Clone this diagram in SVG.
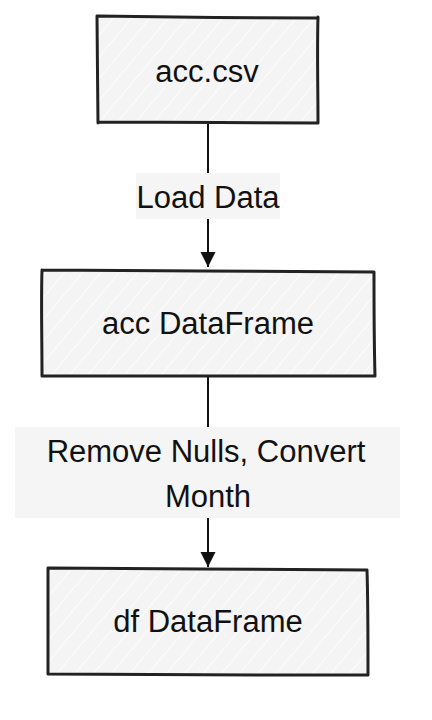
<svg xmlns="http://www.w3.org/2000/svg" width="432" height="720" viewBox="0 0 432 720">
<defs>
<pattern id="hatch" patternUnits="userSpaceOnUse" width="14" height="14" patternTransform="rotate(40)">
<rect width="14" height="14" fill="#f4f4f4"/>
<line x1="0" y1="0" x2="0" y2="14" stroke="#ffffff" stroke-width="1.6"/>
</pattern>
<marker id="arrow" markerUnits="userSpaceOnUse" markerWidth="16" markerHeight="16" refX="15" refY="8" orient="auto">
<path d="M0,0.5 L15,8 L0,15.5 Z" fill="#111"/>
</marker>
</defs>
<style>
.box{fill:url(#hatch);stroke:none}
.edge{fill:none;stroke:#222;stroke-width:3;stroke-linecap:round;stroke-linejoin:round}
.txt{font-family:"Liberation Sans",Arial,sans-serif;font-size:31px;fill:#111;text-anchor:middle}
.lbl{fill:#f5f5f5}
.conn{fill:none;stroke:#111;stroke-width:2}
</style>
<rect width="432" height="720" fill="#ffffff"/>
<g id="connectors">
<line class="conn" x1="208" y1="124" x2="208" y2="173"/>
<line class="conn" x1="208" y1="219" x2="208" y2="267" marker-end="url(#arrow)"/>
<line class="conn" x1="208" y1="377" x2="208" y2="427"/>
<line class="conn" x1="208" y1="518" x2="208" y2="567" marker-end="url(#arrow)"/>
<g id="label-load">
<rect class="lbl" x="136" y="173" width="144" height="46"/>
<text class="txt" x="208" y="208">Load Data</text>
</g>
<g id="label-clean">
<rect class="lbl" x="15" y="427" width="385" height="91"/>
<text class="txt" x="206" y="462">Remove Nulls, Convert</text>
<text class="txt" x="208" y="507">Month</text>
</g>
</g>
<g id="node-acc-csv">
<rect class="box" x="98" y="17" width="219" height="106"/>
<path class="edge" d="M97,16 C160,17 250,18 317,18 M318,17 C317,50 318,90 318,123 M318,123 C250,123 160,122 98,122 M98,123 C98,90 97,50 97,16"/>
<text class="txt" x="207" y="82">acc.csv</text>
</g>
<g id="node-acc-df">
<rect class="box" x="42" y="271" width="332" height="105"/>
<path class="edge" d="M42,270 C140,271 280,271 374,272 M374,272 C374,300 374,340 375,376 M375,376 C280,376 140,376 42,376 M42,376 C42,340 41,300 42,270"/>
<text class="txt" x="208" y="334">acc DataFrame</text>
</g>
<g id="node-df">
<rect class="box" x="48" y="569" width="320" height="106"/>
<path class="edge" d="M48,568 C140,569 280,569 367,570 M367,570 C368,600 368,640 368,675 M368,675 C280,675 140,675 48,674 M48,674 C48,640 48,600 48,568"/>
<text class="txt" x="208" y="632">df DataFrame</text>
</g>
</svg>
